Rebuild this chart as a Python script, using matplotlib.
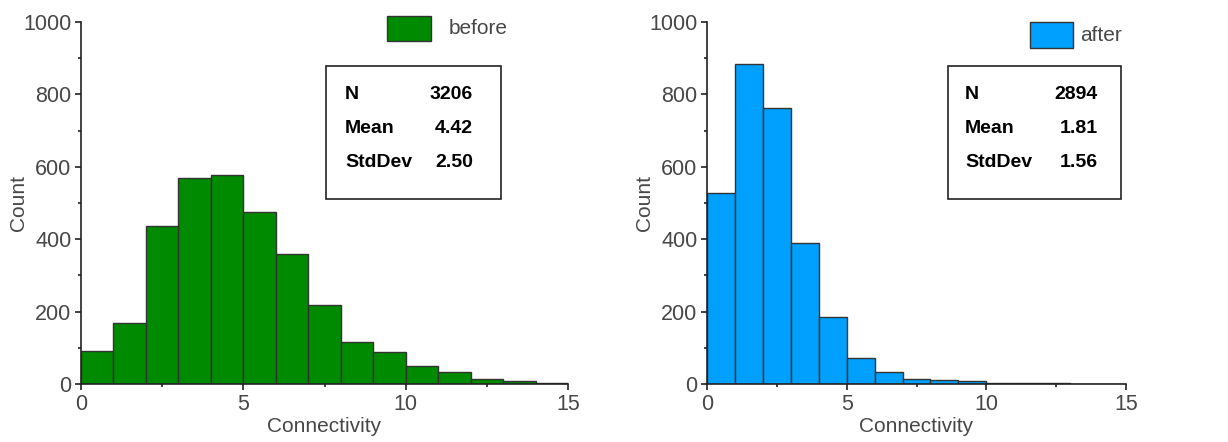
import numpy as np
import matplotlib
matplotlib.use("Agg")
import matplotlib.pyplot as plt
from matplotlib.patches import Rectangle
from matplotlib.ticker import MultipleLocator

plt.rcParams['font.family'] = ['Liberation Sans', 'DejaVu Sans']

bin_edges = list(range(0, 16))
before_counts = [91, 168, 437, 569, 578, 475, 360, 217, 117, 88, 49, 34, 15, 7, 4]
after_counts = [527, 884, 762, 390, 185, 71, 34, 15, 11, 7, 3, 3, 2, 0, 0]
before_stats = [("N", "3206"), ("Mean", "4.42"), ("StdDev", "2.50")]
after_stats = [("N", "2894"), ("Mean", "1.81"), ("StdDev", "1.56")]
labels = ["before", "after"]
colors = ["#008a00", "#00a0ff"]

W, H = 1228, 442
fig = plt.figure(figsize=(W / 100, H / 100), dpi=100)

def frac(x0, y0, x1, y1):
    return [x0 / W, 1 - y1 / H, (x1 - x0) / W, (y1 - y0) / H]

tick_col = "#474747"

def setup(ax, counts, color, label, stats, box, legend, name_x, val_x, ylabel_x):
    edges = np.array(bin_edges)
    ax.bar(edges[:-1], counts, width=1, align='edge', color=color,
           edgecolor="#333333", linewidth=1.0)
    ax.set_xlim(0, 15)
    ax.set_ylim(0, 1000)
    ax.xaxis.set_major_locator(MultipleLocator(5))
    ax.xaxis.set_minor_locator(MultipleLocator(2.5))
    ax.yaxis.set_major_locator(MultipleLocator(200))
    ax.yaxis.set_minor_locator(MultipleLocator(100))
    for s in ['top', 'right']:
        ax.spines[s].set_visible(False)
    for s in ['left', 'bottom']:
        ax.spines[s].set_color("#222222")
        ax.spines[s].set_linewidth(1.2)
    ax.tick_params(which='major', direction='out', length=4, width=1.2,
                   colors="#222222", labelcolor=tick_col, labelsize=15.5, pad=3)
    ax.tick_params(which='minor', direction='out', length=2.5, width=1.2, colors="#222222")
    ax.set_xlabel("Connectivity", fontsize=15, color=tick_col, labelpad=2)
    ax.set_ylabel("Count", fontsize=15, color=tick_col)
    ax.yaxis.set_label_coords(ylabel_x, 0.5)
    # stats box
    bx0, by0, bx1, by1 = box
    ax.add_patch(Rectangle((bx0, by0), bx1 - bx0, by1 - by0, transform=ax.transAxes,
                           facecolor="white", edgecolor="#222222", linewidth=1.2,
                           zorder=5))
    ys = [0.801, 0.707, 0.613]
    for (nm, val), yy in zip(stats, ys):
        ax.text(name_x, yy, nm, transform=ax.transAxes, fontsize=14, fontweight='bold',
                ha='left', va='center', zorder=6)
        ax.text(val_x, yy, val, transform=ax.transAxes, fontsize=14, fontweight='bold',
                ha='right', va='center', zorder=6)
    # legend
    lx0, ly0, lx1, ly1, tx, ty = legend
    ax.add_patch(Rectangle((lx0, ly0), lx1 - lx0, ly1 - ly0, transform=ax.transAxes,
                           facecolor=color, edgecolor="#333333", linewidth=1.0,
                           clip_on=False, zorder=5))
    ax.text(tx, ty, label, transform=ax.transAxes, fontsize=15, color=tick_col,
            ha='left', va='center')

ax1 = fig.add_axes(frac(81, 22, 568, 384))
setup(ax1, before_counts, colors[0], labels[0], before_stats,
      (0.503, 0.511, 0.862, 0.878),
      (0.628, 0.948, 0.719, 1.017, 0.754, 0.983),
      0.542, 0.805, -0.108)

ax2 = fig.add_axes(frac(707, 22, 1126, 384))
setup(ax2, after_counts, colors[1], labels[1], after_stats,
      (0.575, 0.511, 0.988, 0.878),
      (0.771, 0.928, 0.874, 1.0, 0.890, 0.964),
      0.616, 0.933, -0.126)

fig.savefig("out.png", dpi=100)
